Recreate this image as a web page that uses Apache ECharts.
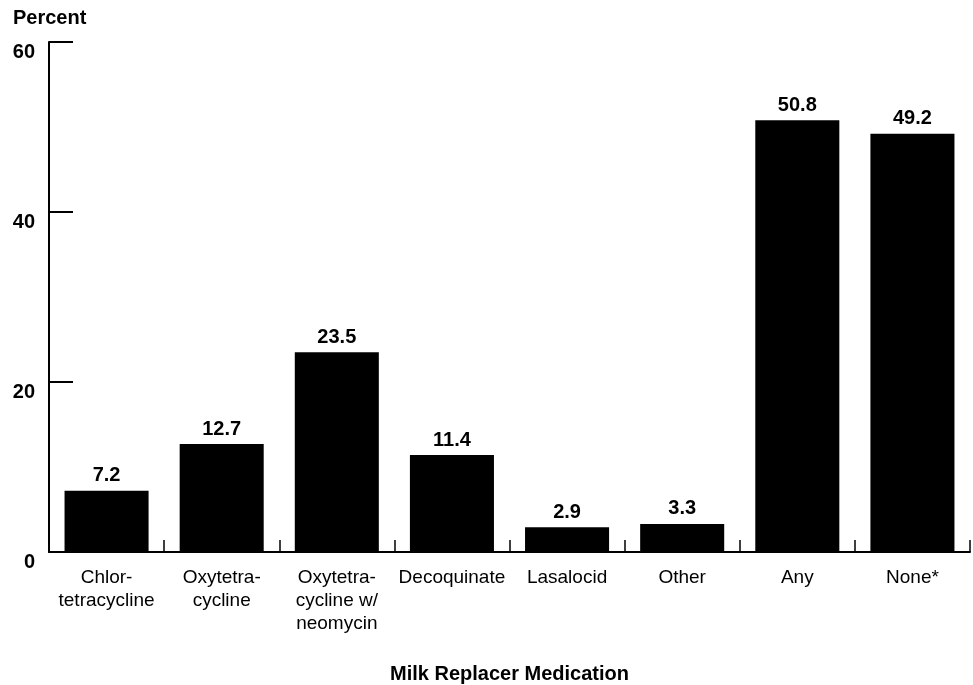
<!DOCTYPE html>
<html>
<head>
<meta charset="utf-8">
<script src="https://cdn.jsdelivr.net/npm/echarts@6/dist/echarts.min.js"></script>
<style>html,body{margin:0;padding:0;background:#fff;}#c{width:973px;height:685px;}</style>
</head>
<body>
<div id="c"></div>
<script>
var categories = ['Chlor-\ntetracycline', 'Oxytetra-\ncycline', 'Oxytetra-\ncycline w/\nneomycin', 'Decoquinate', 'Lasalocid', 'Other', 'Any', 'None*'];
var values = [7.2, 12.7, 23.5, 11.4, 2.9, 3.3, 50.8, 49.2];
var yTicks = [0, 20, 40, 60];
var yTitle = 'Percent';
var xTitle = 'Milk Replacer Medication';

var FONT = '"Liberation Sans", Arial, Helvetica, sans-serif';
var chart = echarts.init(document.getElementById('c'), null, {renderer: 'canvas'});
chart.setOption({
  animation: false,
  backgroundColor: '#fff',
  title: {
    text: yTitle, left: 13, top: 8, padding: 0,
    textStyle: {fontFamily: FONT, fontSize: 20, fontWeight: 'bold', color: '#000'}
  },
  grid: {left: 49, right: 3, top: 42, bottom: 133, outerBoundsMode: 'none', containLabel: false},
  xAxis: {
    type: 'category',
    data: categories,
    name: xTitle,
    nameLocation: 'middle',
    nameGap: 112,
    nameTextStyle: {fontFamily: FONT, fontSize: 20, fontWeight: 'bold', color: '#000'},
    axisLine: {show: true, lineStyle: {color: '#000', width: 2}},
    axisTick: {show: true, inside: true, length: 12, lineStyle: {color: '#000', width: 1.5}},
    axisLabel: {
      interval: 0, margin: 14, color: '#000',
      fontFamily: FONT, fontSize: 19, lineHeight: 23
    },
    splitLine: {show: false}
  },
  yAxis: {
    type: 'value',
    min: yTicks[0], max: yTicks[yTicks.length - 1], interval: 20,
    axisLine: {show: true, lineStyle: {color: '#000', width: 2}},
    axisTick: {show: true, inside: true, length: 24, lineStyle: {color: '#000', width: 2}},
    axisLabel: {
      margin: 14, color: '#000', fontFamily: FONT, fontSize: 20, fontWeight: 'bold',
      verticalAlign: 'top', lineHeight: 20
    },
    splitLine: {show: false}
  },
  series: [{
    type: 'bar',
    data: values,
    barWidth: '73%',
    itemStyle: {color: '#000'},
    label: {
      show: true, position: 'top', distance: 5, color: '#000',
      fontFamily: FONT, fontSize: 20, fontWeight: 'bold',
      formatter: function (p) { return p.value.toFixed(1); }
    }
  }]
});
</script>
</body>
</html>
